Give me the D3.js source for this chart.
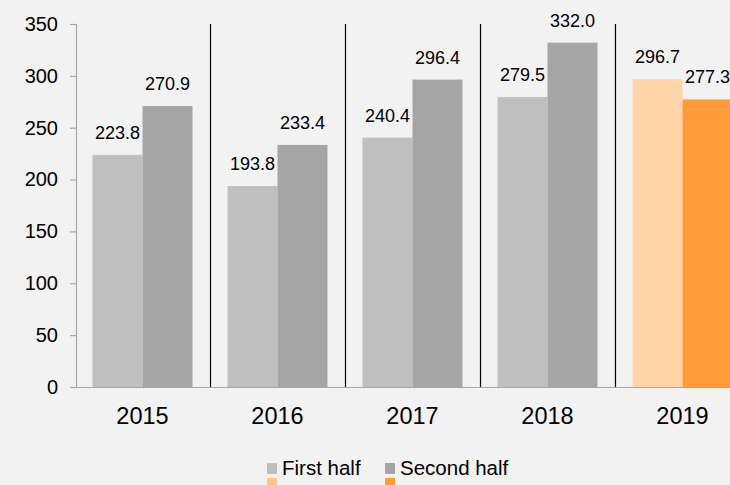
<!DOCTYPE html>
<html lang="en">
<head>
  <meta charset="UTF-8" />
  <title>Half-year values</title>
  <script src="https://d3js.org/d3.v7.min.js"></script>
  <style>
    body {
      margin: 0;
      padding: 0;
      background-color: #f2f2f2;
      font-family: "Liberation Sans", Arial, sans-serif;
    }
    svg { display: block; }
  </style>
</head>
<body>
  <svg width="730" height="485"></svg>

  <script>
    const years = ["2015", "2016", "2017", "2018", "2019"];
    const firstHalf = [223.8, 193.8, 240.4, 279.5, 296.7];
    const secondHalf = [270.9, 233.4, 296.4, 332.0, 277.3];
    const yTicks = [0, 50, 100, 150, 200, 250, 300, 350];
    const seriesNames = ["First half", "Second half"];

    const greyColors = ["#bfbfbf", "#a5a5a5"];
    const orangeColors = ["#ffd5a8", "#ff9a38"];
    const legendOrange = ["#ffc88a", "#ff9a38"];

    const svg = d3.select("svg");

    const x = d3.scaleBand()
      .domain(years)
      .range([75, 750])
      .paddingInner(0)
      .paddingOuter(0);

    const xSub = d3.scaleBand()
      .domain([0, 1])
      .range([0, x.bandwidth()])
      .paddingInner(0)
      .paddingOuter(0.35);

    const y = d3.scaleLinear()
      .domain([0, 350])
      .range([387, 24]);

    // y axis
    const yAxis = svg.append("g")
      .attr("transform", "translate(76,0)")
      .call(d3.axisLeft(y).tickValues(yTicks).tickSize(6).tickPadding(12).tickFormat(d3.format("d")));
    yAxis.select(".domain").attr("stroke", "#a6a6a6").attr("stroke-width", 1.2);
    yAxis.selectAll(".tick line").attr("stroke", "#a6a6a6").attr("stroke-width", 1.2);
    yAxis.selectAll(".tick text")
      .attr("fill", "#000")
      .style("font-family", "'Liberation Sans', Arial, sans-serif")
      .style("font-size", "20px");

    // separators between categories
    svg.append("g")
      .selectAll("line")
      .data(years.slice(1))
      .join("line")
      .attr("x1", d => Math.round(x(d)) + 0.5)
      .attr("x2", d => Math.round(x(d)) + 0.5)
      .attr("y1", y(350))
      .attr("y2", y(0))
      .attr("stroke", "#000")
      .attr("stroke-width", 1.2);

    // bars
    const rows = years.map((yr, i) => ({ year: yr, values: [firstHalf[i], secondHalf[i]], last: i === years.length - 1 }));

    const groups = svg.append("g")
      .selectAll("g")
      .data(rows)
      .join("g")
      .attr("transform", d => `translate(${x(d.year)},0)`);

    groups.selectAll("rect")
      .data(d => d.values.map((v, k) => ({ v, k, last: d.last })))
      .join("rect")
      .attr("x", d => xSub(d.k))
      .attr("width", xSub.bandwidth())
      .attr("y", d => y(d.v))
      .attr("height", d => y(0) - y(d.v))
      .attr("fill", d => d.last ? orangeColors[d.k] : greyColors[d.k]);

    groups.selectAll("text")
      .data(d => d.values.map((v, k) => ({ v, k })))
      .join("text")
      .attr("x", d => xSub(d.k) + xSub.bandwidth() / 2)
      .attr("y", d => y(d.v) - 16)
      .attr("text-anchor", "middle")
      .style("font-size", "18px")
      .attr("fill", "#000")
      .text(d => d.v.toFixed(1));

    // x axis line
    svg.append("line")
      .attr("x1", 76).attr("x2", 730)
      .attr("y1", y(0) + 0.5).attr("y2", y(0) + 0.5)
      .attr("stroke", "#a6a6a6")
      .attr("stroke-width", 1.2);

    // category labels
    svg.append("g")
      .selectAll("text")
      .data(years)
      .join("text")
      .attr("x", d => x(d) + x.bandwidth() / 2)
      .attr("y", 424)
      .attr("text-anchor", "middle")
      .style("font-size", "23.5px")
      .attr("fill", "#000")
      .text(d => d);

    // legend
    const legendX = [267, 385];
    const legend = svg.append("g");
    seriesNames.forEach((name, i) => {
      legend.append("rect")
        .attr("x", legendX[i]).attr("y", 463)
        .attr("width", 10).attr("height", 11)
        .attr("fill", greyColors[i]);
      legend.append("text")
        .attr("x", legendX[i] + 15).attr("y", 475)
        .style("font-size", "20.5px")
        .attr("fill", "#000")
        .text(name);
      legend.append("rect")
        .attr("x", legendX[i]).attr("y", 478)
        .attr("width", 10).attr("height", 11)
        .attr("fill", legendOrange[i]);
    });
  </script>
</body>
</html>
